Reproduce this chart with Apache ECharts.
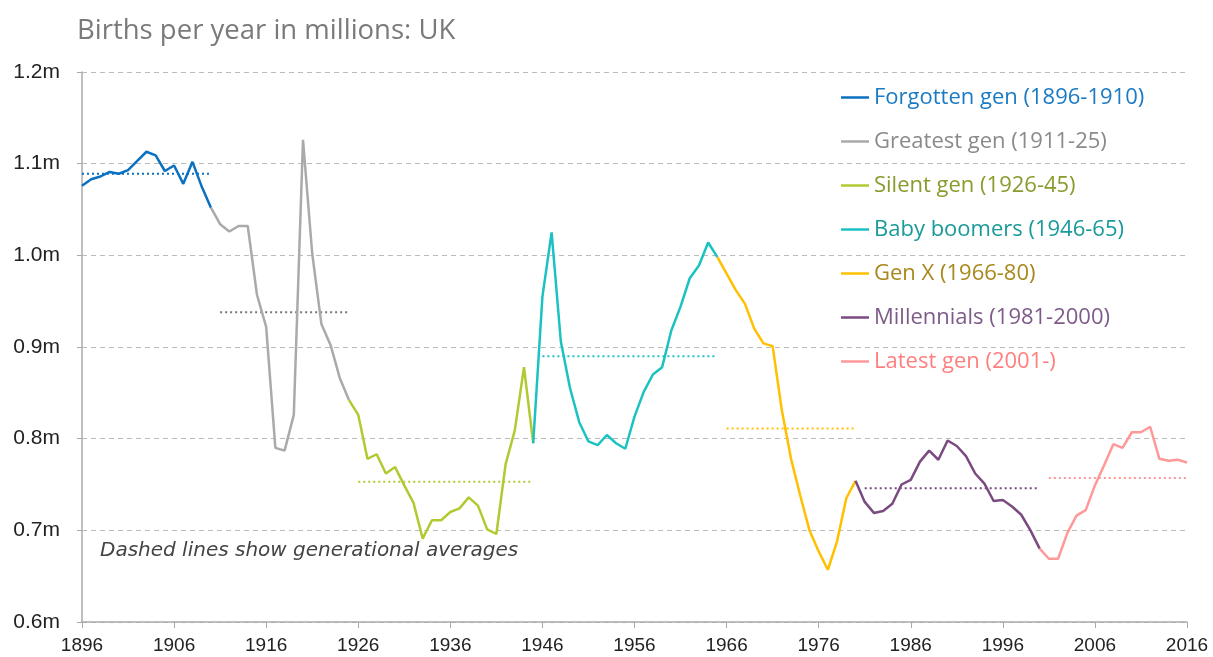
<!DOCTYPE html>
<html>
<head>
<meta charset="utf-8">
<title>Births per year in millions: UK</title>
<script src="https://cdn.jsdelivr.net/npm/echarts@6/dist/echarts.min.js"></script>
<style>
  html, body { margin: 0; padding: 0; background: #fff; }
  #chart-container { width: 1213px; height: 657px; }
</style>
</head>
<body>
<div id="chart-container"></div>
<script>
// years on the x axis
const years = [];
for (let y = 1896; y <= 2016; y++) years.push(String(y));

// births per year (millions), each generation starts at the previous one's last year
const forgottenStart = 1896;
const forgottenGen = [1.076, 1.083, 1.086, 1.091, 1.089, 1.093, 1.103, 1.113, 1.109, 1.092, 1.098, 1.078, 1.102, 1.075, 1.052];
const greatestStart = 1910;
const greatestGen = [1.052, 1.034, 1.026, 1.032, 1.032, 0.957, 0.922, 0.790, 0.787, 0.826, 1.126, 1.002, 0.925, 0.902, 0.866, 0.842];
const silentStart = 1925;
const silentGen = [0.842, 0.826, 0.778, 0.783, 0.762, 0.769, 0.749, 0.730, 0.691, 0.711, 0.711, 0.720, 0.724, 0.736, 0.727, 0.701, 0.696, 0.772, 0.809, 0.878, 0.795];
const boomerStart = 1945;
const boomerGen = [0.795, 0.955, 1.025, 0.906, 0.855, 0.818, 0.797, 0.793, 0.804, 0.795, 0.789, 0.824, 0.851, 0.870, 0.878, 0.918, 0.944, 0.975, 0.989, 1.014, 0.998];
const genXStart = 1965;
const genX = [0.998, 0.980, 0.962, 0.947, 0.920, 0.904, 0.901, 0.831, 0.778, 0.738, 0.700, 0.677, 0.657, 0.688, 0.735, 0.754];
const millennialStart = 1980;
const millennials = [0.754, 0.731, 0.719, 0.721, 0.729, 0.750, 0.755, 0.775, 0.787, 0.777, 0.798, 0.792, 0.781, 0.762, 0.751, 0.732, 0.733, 0.726, 0.717, 0.700, 0.680];
const latestStart = 2000;
const latestGen = [0.680, 0.669, 0.669, 0.697, 0.716, 0.722, 0.749, 0.771, 0.794, 0.790, 0.807, 0.807, 0.813, 0.778, 0.776, 0.777, 0.774];

// generational averages: [from, to, value]
const averages = [
  [1896, 1910, 1.089],
  [1911, 1925, 0.938],
  [1926, 1945, 0.753],
  [1946, 1965, 0.890],
  [1966, 1980, 0.811],
  [1981, 2000, 0.746],
  [2001, 2016, 0.757]
];

const genNames = ['Forgotten gen (1896-1910)', 'Greatest gen (1911-25)', 'Silent gen (1926-45)',
  'Baby boomers (1946-65)', 'Gen X (1966-80)', 'Millennials (1981-2000)', 'Latest gen (2001-)'];
const lineColors = ['#0a70c0', '#aaaaaa', '#b3c932', '#1cc2c2', '#ffc000', '#7a4a80', '#ff9999'];
const textColors = ['#1a7ac4', '#8a8a8a', '#8a9a2c', '#1a9a9a', '#a8881c', '#7e5a88', '#ff7f7f'];

const gens = [
  [forgottenStart, forgottenGen],
  [greatestStart, greatestGen],
  [silentStart, silentGen],
  [boomerStart, boomerGen],
  [genXStart, genX],
  [millennialStart, millennials],
  [latestStart, latestGen]
];

const series = [];
gens.forEach(function (g, i) {
  series.push({
    name: genNames[i],
    type: 'line',
    data: g[1].map(function (v, k) { return [String(g[0] + k), v]; }),
    symbol: 'none',
    color: lineColors[i],
    lineStyle: { width: 2.5, color: lineColors[i] },
    z: 3
  });
});
averages.forEach(function (a, i) {
  series.push({
    name: 'avg' + i,
    type: 'line',
    data: [[String(a[0]), a[2]], [String(a[1]), a[2]]],
    symbol: 'none',
    silent: true,
    lineStyle: { width: 2, type: [2, 3], color: i === 1 ? '#777777' : lineColors[i] },
    z: 2
  });
});

const chart = echarts.init(document.getElementById('chart-container'));
chart.setOption({
  animation: false,
  title: {
    text: 'Births per year in millions: UK',
    left: 72,
    top: 12,
    textStyle: { fontFamily: 'Open Sans', fontSize: 27.5, fontWeight: 'normal', color: '#7a7a7a' }
  },
  legend: {
    orient: 'vertical',
    left: 836,
    top: 81,
    icon: 'rect',
    itemWidth: 28,
    itemHeight: 2.5,
    itemGap: 21,
    data: genNames.map(function (n, i) {
      return { name: n, textStyle: { color: textColors[i] } };
    }),
    textStyle: { fontFamily: 'Open Sans', fontSize: 22, lineHeight: 23 }
  },
  grid: { left: 82, right: 26, top: 72, bottom: 35 },
  xAxis: {
    type: 'category',
    data: years,
    boundaryGap: false,
    axisLine: { lineStyle: { color: '#aaaaaa', width: 1.5 } },
    axisTick: { interval: 9, length: 6, lineStyle: { color: '#aaaaaa' } },
    axisLabel: { interval: 9, margin: 14, fontFamily: 'Liberation Sans', fontSize: 19, color: '#222222' },
    splitLine: { show: false }
  },
  yAxis: {
    type: 'value',
    min: 0.6,
    max: 1.2,
    interval: 0.1,
    axisLine: { show: true, lineStyle: { color: '#aaaaaa', width: 1.5 } },
    axisTick: { show: true, length: 5, lineStyle: { color: '#aaaaaa' } },
    axisLabel: {
      margin: 22,
      fontFamily: 'Liberation Sans',
      fontSize: 21,
      color: '#222222',
      formatter: function (v) { return v.toFixed(1) + 'm'; }
    },
    splitLine: { lineStyle: { color: '#bbbbbb', type: [5, 4] } }
  },
  graphic: [{
    type: 'text',
    left: 100,
    top: 541,
    style: {
      text: 'Dashed lines show generational averages',
      fontFamily: 'DejaVu Sans',
      fontStyle: 'italic',
      fontSize: 20,
      fill: '#444444'
    }
  }],
  series: series
});
</script>
</body>
</html>
